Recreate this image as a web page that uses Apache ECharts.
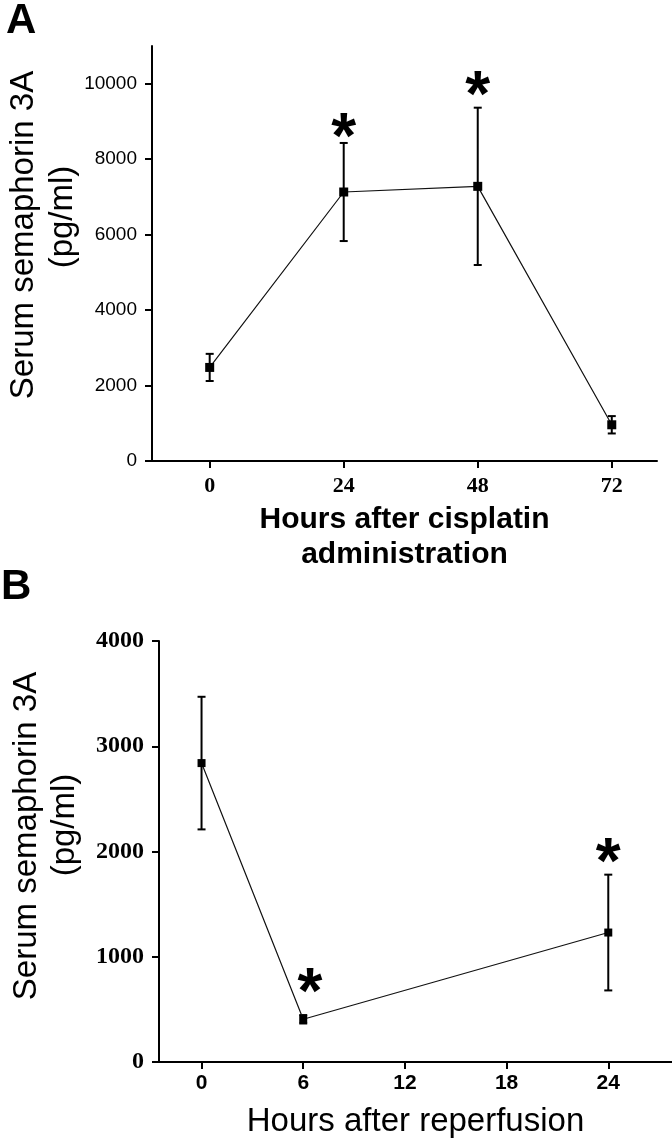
<!DOCTYPE html>
<html>
<head>
<meta charset="utf-8">
<script src="https://cdn.jsdelivr.net/npm/echarts@6.0.0/dist/echarts.min.js"></script>
<style>
html, body { margin: 0; padding: 0; background: #fff; }
#main { width: 672px; height: 1143px; }
</style>
</head>
<body>
<div id="main"></div>
<script>
// panel A: hours after cisplatin
var hoursA = [0, 24, 48, 72];
var meanA = [2480, 7130, 7280, 960];
var errA = [360, 1300, 2085, 230];
var starA = [[24, 8880], [48, 9990]];
var xTicksA = [0, 24, 48, 72];
var yTicksA = [0, 2000, 4000, 6000, 8000, 10000];

// panel B: hours after reperfusion
var hoursB = [0, 6, 24];
var meanB = [2840, 406, 1230];
var errB = [630, 40, 550];
var starB = [[6.4, 770], [24, 2005]];
var xTicksB = [0, 6, 12, 18, 24];
var yTicksB = [0, 1000, 2000, 3000, 4000];

var black = '#000';

function pairs(x, y) {
    return x.map(function (v, i) { return [v, y[i]]; });
}

function plain(v) { return String(v); }

// error bars drawn through the axes
function errBars(x, m, e, idx) {
    return {
        type: 'custom',
        xAxisIndex: idx,
        yAxisIndex: idx,
        z: 3,
        silent: true,
        encode: { x: 0, y: [1, 2] },
        data: x.map(function (h, i) { return [h, m[i] - e[i], m[i] + e[i]]; }),
        renderItem: function (params, api) {
            var lo = api.coord([api.value(0), api.value(1)]);
            var hi = api.coord([api.value(0), api.value(2)]);
            var st = { stroke: black, lineWidth: 2 };
            return {
                type: 'group',
                children: [
                    { type: 'line', shape: { x1: lo[0], y1: lo[1], x2: hi[0], y2: hi[1] }, style: st },
                    { type: 'line', shape: { x1: lo[0] - 4, y1: lo[1], x2: lo[0] + 4, y2: lo[1] }, style: st },
                    { type: 'line', shape: { x1: hi[0] - 4, y1: hi[1], x2: hi[0] + 4, y2: hi[1] }, style: st }
                ]
            };
        }
    };
}

function meanLine(x, m, idx, size) {
    return {
        type: 'line',
        xAxisIndex: idx,
        yAxisIndex: idx,
        z: 4,
        silent: true,
        data: pairs(x, m),
        symbol: 'rect',
        symbolSize: size,
        itemStyle: { color: black },
        lineStyle: { color: '#111', width: 1.2 }
    };
}

function stars(d, idx) {
    return {
        type: 'scatter',
        xAxisIndex: idx,
        yAxisIndex: idx,
        z: 5,
        silent: true,
        symbolSize: 0,
        data: d,
        label: {
            show: true,
            position: 'inside',
            formatter: '*',
            offset: [0, 14],
            color: black,
            textBorderWidth: 0,
            opacity: 1,
            fontFamily: 'Liberation Sans',
            fontWeight: 'bold',
            fontSize: 64
        }
    };
}

function xAxisCfg(idx, min, max, ticks, label, name, nameGap, nameStyle) {
    return {
        gridIndex: idx,
        type: 'value',
        min: min,
        max: max,
        splitLine: { show: false },
        axisLine: { onZero: false, lineStyle: { color: black, width: 2 } },
        axisTick: { customValues: ticks, length: 7, lineStyle: { color: black, width: 2 } },
        axisLabel: Object.assign({ customValues: ticks, color: black, formatter: plain }, label),
        name: name,
        nameLocation: 'middle',
        nameGap: nameGap,
        nameTextStyle: nameStyle
    };
}

function yAxisCfg(idx, max, ticks, label) {
    return {
        gridIndex: idx,
        type: 'value',
        min: 0,
        max: max,
        splitLine: { show: false },
        axisLine: { onZero: false, lineStyle: { color: black, width: 2 } },
        axisTick: { customValues: ticks, length: 7, lineStyle: { color: black, width: 2 } },
        axisLabel: Object.assign({ customValues: ticks, color: black, formatter: plain }, label)
    };
}

function vText(txt, x, y) {
    return {
        type: 'text', x: x, y: y, rotation: Math.PI / 2,
        style: {
            text: txt, fill: black,
            font: '33px "Liberation Sans"',
            align: 'center', verticalAlign: 'middle',
            textAlign: 'center', textVerticalAlign: 'middle'
        }
    };
}

function letter(txt, x, y) {
    return {
        type: 'text', x: x, y: y,
        style: {
            text: txt, fill: black,
            font: 'bold 42px "Liberation Sans"',
            align: 'left', verticalAlign: 'middle',
            textAlign: 'left', textVerticalAlign: 'middle'
        }
    };
}

var chart = echarts.init(document.getElementById('main'));
var option = {
    animation: false,
    backgroundColor: '#fff',
    grid: [
        { left: 152, top: 46, width: 505, height: 415 },
        { left: 159, top: 641, width: 513, height: 421 }
    ],
    xAxis: [
        xAxisCfg(0, -10.33, 80.1, xTicksA,
            { margin: 14, fontFamily: 'Liberation Serif', fontWeight: 'bold', fontSize: 22 },
            'Hours after cisplatin\nadministration', 41,
            { color: black, fontFamily: 'Liberation Sans', fontWeight: 'bold', fontSize: 30, lineHeight: 35 }),
        xAxisCfg(1, -2.51, 27.76, xTicksB,
            { margin: 11, fontFamily: 'Liberation Sans', fontWeight: 'bold', fontSize: 21 },
            'Hours after reperfusion', 43,
            { color: black, fontFamily: 'Liberation Sans', fontSize: 33, lineHeight: 33 })
    ],
    yAxis: [
        yAxisCfg(0, 11000, yTicksA, { margin: 15, fontFamily: 'Liberation Sans', fontSize: 19 }),
        yAxisCfg(1, 4000, yTicksB, { margin: 15, fontFamily: 'Liberation Serif', fontWeight: 'bold', fontSize: 24 })
    ],
    graphic: [
        letter('A', 6, 21),
        letter('B', 1, 587),
        vText('Serum semaphorin 3A', 24, 235),
        vText('(pg/ml)', 63, 217),
        vText('Serum semaphorin 3A', 27, 836),
        vText('(pg/ml)', 65, 825)
    ],
    series: [
        meanLine(hoursA, meanA, 0, 9),
        errBars(hoursA, meanA, errA, 0),
        stars(starA, 0),
        meanLine(hoursB, meanB, 1, 8),
        errBars(hoursB, meanB, errB, 1),
        stars(starB, 1)
    ]
};
chart.setOption(option);
</script>
</body>
</html>
